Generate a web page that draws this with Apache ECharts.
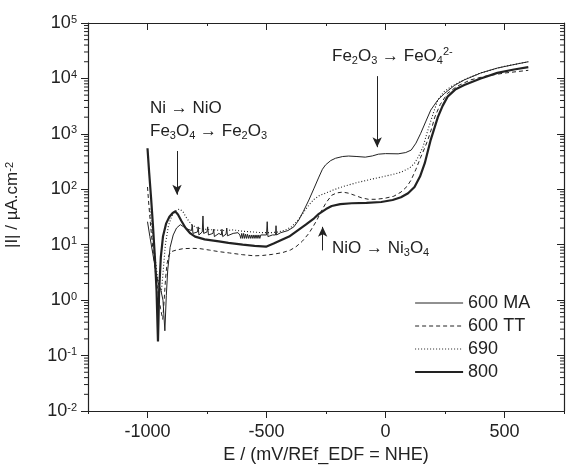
<!DOCTYPE html>
<html>
<head>
<meta charset="utf-8">
<script src="https://cdn.jsdelivr.net/npm/echarts@6/dist/echarts.min.js"></script>
<style>
html, body { margin: 0; padding: 0; background: #fff; }
#chart { width: 567px; height: 472px; }
</style>
</head>
<body>
<div id="chart"></div>
<script>
// Polarisation curves: |I| (µA.cm-2) against E (mV/REf_EDF = NHE)
const seriesNames = ['600 MA', '600 TT', '690', '800'];

const curve600MA = [
  [-1000, 26], [-990, 14], [-978, 7], [-966, 3.5], [-955, 2.0], [-945, 1.6], [-935, 1.0],
  [-927, 0.28], [-921, 1.2], [-915, 3.5], [-905, 9], [-892, 15], [-878, 20], [-862, 23],
  [-848, 21], [-830, 19], [-815, 18], [-812, 23], [-809, 16], [-790, 17], [-787, 21], [-784, 15],
  [-770, 17], [-767, 33], [-764, 16], [-750, 17], [-747, 21], [-744, 15], [-725, 16], [-722, 19],
  [-719, 14], [-700, 16], [-690, 15], [-687, 19], [-684, 14], [-670, 15.5], [-667, 20], [-664, 14.5],
  [-640, 16], [-620, 16.5], [-612, 15], [-608, 13], [-604, 16], [-600, 13], [-596, 16], [-592, 13],
  [-588, 15.5], [-584, 13], [-580, 15.5], [-576, 13], [-572, 15], [-568, 13], [-564, 15], [-560, 13],
  [-556, 15], [-552, 13], [-548, 15], [-544, 13], [-540, 15], [-536, 13], [-532, 15], [-528, 13],
  [-524, 15], [-520, 14], [-500, 15], [-497, 26], [-494, 14], [-475, 15], [-462, 15], [-460, 22],
  [-458, 15], [-440, 16.5], [-410, 18], [-385, 21], [-364, 28], [-345, 40], [-322, 64], [-300, 105],
  [-280, 166], [-265, 230], [-252, 275], [-230, 330], [-210, 363], [-180, 390], [-155, 398],
  [-120, 390], [-85, 380], [-55, 400], [-30, 430], [0, 440], [53, 436], [85, 460], [108, 510],
  [128, 680], [148, 1025], [170, 1700], [190, 2680], [220, 4100], [248, 5360], [290, 7500],
  [331, 9400], [400, 12500], [470, 15400], [540, 17800], [600, 20000]
];

const curve600TT = [
  [-1000, 110], [-994, 50], [-986, 20], [-977, 8], [-966, 3], [-955, 1.3], [-945, 0.7],
  [-936, 0.45], [-930, 1], [-924, 2.5], [-918, 4.5], [-910, 6.5], [-900, 7.5], [-880, 8],
  [-850, 8.5], [-810, 8.6], [-780, 8.5], [-740, 8], [-700, 7.5], [-656, 7.1], [-600, 6.6],
  [-550, 6.3], [-516, 6.4], [-475, 6.7], [-433, 7.2], [-400, 8], [-376, 9.2], [-350, 11.5],
  [-322, 16], [-305, 21], [-288, 28], [-270, 40], [-250, 57], [-226, 78], [-205, 86],
  [-180, 89], [-155, 85], [-130, 78], [-100, 70], [-72, 66], [-40, 66], [-2, 69], [35, 75],
  [65, 89], [90, 112], [108, 148], [128, 230], [148, 380], [165, 560], [178, 780], [195, 1300],
  [207, 2000], [230, 3400], [261, 5400], [300, 7200], [357, 9400], [420, 11000], [500, 12500],
  [600, 14000]
];

const curve690 = [
  [-990, 45], [-980, 18], [-970, 7], [-960, 3], [-950, 1.6], [-942, 1.4], [-935, 3], [-925, 10],
  [-912, 22], [-898, 33], [-882, 41], [-866, 44], [-852, 40], [-835, 30], [-815, 23], [-790, 20],
  [-760, 19], [-720, 18.5], [-680, 18], [-640, 18.5], [-600, 17.5], [-560, 17], [-520, 16.5],
  [-480, 16.5], [-450, 17], [-420, 18.5], [-395, 21], [-370, 27], [-345, 38], [-322, 52],
  [-300, 66], [-276, 78], [-252, 85], [-220, 97], [-190, 108], [-155, 120], [-110, 135],
  [-60, 152], [-18, 166], [30, 185], [65, 204], [100, 240], [122, 295], [140, 400], [157, 570],
  [178, 1170], [200, 2300], [220, 4100], [245, 5700], [275, 7100], [330, 9500], [400, 12600],
  [500, 16500], [600, 20000]
];

const curve800 = [
  [-1000, 550], [-993, 200], [-985, 70], [-977, 22], [-969, 6], [-962, 1.5], [-956, 0.18],
  [-951, 1.5], [-944, 6], [-935, 14], [-922, 24], [-908, 32], [-895, 37], [-884, 40], [-872, 35],
  [-858, 27], [-840, 20], [-820, 16], [-800, 14], [-760, 12.5], [-700, 11.5], [-660, 10.8],
  [-600, 10], [-550, 9.5], [-502, 9.2], [-470, 10.5], [-440, 12], [-405, 14], [-370, 18],
  [-335, 23], [-300, 30], [-280, 36], [-250, 44], [-226, 50], [-190, 54], [-142, 56], [-80, 57],
  [-18, 59], [30, 64], [65, 72], [95, 85], [122, 110], [145, 170], [165, 295], [190, 780],
  [220, 2000], [240, 3200], [261, 4700], [295, 6400], [331, 7600], [400, 10000], [470, 12600],
  [540, 14500], [600, 16000]
];

// axis ranges and labelled ticks
const xRange = [-1250, 750];
const xLabelTicks = [-1000, -500, 0, 500];
const yRange = [0.01, 100000];
const yMinorTicks = [];
for (let e = -2; e < 5; e++) {
  for (let m = 2; m <= 9; m++) yMinorTicks.push(m * Math.pow(10, e));
}

// arrows pointing at the reaction regions: [E, |I| start] -> [E, |I| end]
const arrows = [
  [[-876, 490], [-876, 80]],
  [[-35, 11000], [-35, 575]],
  [[-264, 7.9], [-264, 21]]
];

const FONT = '"Liberation Sans", Arial, Helvetica, sans-serif';
const INK = '#222';

const chart = echarts.init(document.getElementById('chart'), null, { renderer: 'canvas' });

function supLabel(v) {
  const e = Math.round(Math.log10(v));
  return '10{sup|' + e + '}';
}

const subRich = {
  sub: { fontSize: 11, fontFamily: FONT, color: INK, verticalAlign: 'bottom', lineHeight: 6 },
  sup: { fontSize: 11, fontFamily: FONT, color: INK, verticalAlign: 'top', lineHeight: 6 }
};

function lineSeries(name, data, lineStyle) {
  return {
    name: name,
    type: 'line',
    data: data,
    showSymbol: false,
    symbol: 'none',
    smooth: false,
    clip: true,
    lineStyle: Object.assign({ color: INK }, lineStyle),
    itemStyle: { color: INK },
    emphasis: { disabled: true }
  };
}

const series = [
  lineSeries(seriesNames[0], curve600MA, { width: 1, type: 'solid' }),
  lineSeries(seriesNames[1], curve600TT, { width: 1, type: [4, 3] }),
  lineSeries(seriesNames[2], curve690, { width: 1.1, type: [1, 2] }),
  lineSeries(seriesNames[3], curve800, { width: 2.2, type: 'solid' })
];

series[3].markLine = {
  silent: true,
  symbol: ['none', 'arrow'],
  symbolSize: [7, 10],
  label: { show: false },
  lineStyle: { color: INK, width: 1, type: 'solid' },
  emphasis: { disabled: true },
  data: arrows.map(a => [{ coord: a[0] }, { coord: a[1] }])
};

// log-axis minor ticks on left (outside) and right (inside)
series.push({
  type: 'custom',
  silent: true,
  clip: false,
  z: 5,
  data: yMinorTicks.map(v => [xRange[0], v]),
  renderItem: function (params, api) {
    const v = api.value(1);
    const pl = api.coord([xRange[0], v]);
    const pr = api.coord([xRange[1], v]);
    return {
      type: 'group',
      children: [
        { type: 'line', shape: { x1: pl[0] - 4, y1: pl[1], x2: pl[0], y2: pl[1] }, style: { stroke: INK, lineWidth: 1 } },
        { type: 'line', shape: { x1: pr[0] - 4, y1: pr[1], x2: pr[0], y2: pr[1] }, style: { stroke: INK, lineWidth: 1 } }
      ]
    };
  }
});

// longer ticks at the labelled E values (bottom outside, top inside)
series.push({
  type: 'custom',
  silent: true,
  clip: false,
  z: 5,
  data: xLabelTicks.map(v => [v, yRange[0]]),
  renderItem: function (params, api) {
    const v = api.value(0);
    const pb = api.coord([v, yRange[0]]);
    const pt = api.coord([v, yRange[1]]);
    return {
      type: 'group',
      children: [
        { type: 'line', shape: { x1: pb[0], y1: pb[1], x2: pb[0], y2: pb[1] + 7 }, style: { stroke: INK, lineWidth: 1 } },
        { type: 'line', shape: { x1: pt[0], y1: pt[1], x2: pt[0], y2: pt[1] + 7 }, style: { stroke: INK, lineWidth: 1 } }
      ]
    };
  }
});

const option = {
  animation: false,
  backgroundColor: '#fff',
  textStyle: { fontFamily: FONT, color: INK },
  grid: { left: 88, right: 1, top: 23, bottom: 61, containLabel: false },
  legend: {
    data: seriesNames,
    orient: 'vertical',
    left: 414,
    top: 294,
    padding: 0,
    itemWidth: 48,
    itemHeight: 12,
    itemGap: 5,
    selectedMode: false,
    itemStyle: { opacity: 0 },
    lineStyle: { width: 'inherit' },
    textStyle: { fontSize: 18, fontFamily: FONT, color: INK }
  },
  xAxis: [
    {
      type: 'value', position: 'bottom', min: xRange[0], max: xRange[1], interval: 250,
      axisLine: { show: true, onZero: false, lineStyle: { color: INK, width: 1.2 } },
      axisTick: { show: true, inside: false, length: 3, lineStyle: { color: INK } },
      splitLine: { show: false },
      axisLabel: {
        show: true, margin: 12, fontSize: 18, fontFamily: FONT, color: INK,
        formatter: v => (xLabelTicks.indexOf(v) >= 0 ? String(v) : '')
      },
      name: 'E / (mV/REf_EDF = NHE)',
      nameLocation: 'middle',
      nameGap: 34,
      nameTextStyle: { fontSize: 18, fontFamily: FONT, color: INK }
    },
    {
      type: 'value', position: 'top', min: xRange[0], max: xRange[1], interval: 250,
      axisLine: { show: true, onZero: false, lineStyle: { color: INK, width: 1.2 } },
      axisTick: { show: true, inside: true, length: 3, lineStyle: { color: INK } },
      splitLine: { show: false },
      axisLabel: { show: false }
    }
  ],
  yAxis: [
    {
      type: 'log', logBase: 10, position: 'left', min: yRange[0], max: yRange[1], splitNumber: 7,
      axisLine: { show: true, onZero: false, lineStyle: { color: INK, width: 1.2 } },
      axisTick: { show: true, inside: false, length: 7, lineStyle: { color: INK } },
      minorTick: { show: false },
      splitLine: { show: false },
      axisLabel: {
        show: true, margin: 11, fontSize: 18, fontFamily: FONT, color: INK,
        formatter: supLabel,
        rich: { sup: { fontSize: 11, fontFamily: FONT, color: INK, verticalAlign: 'top', lineHeight: 6 } }
      }
    },
    {
      type: 'log', logBase: 10, position: 'right', min: yRange[0], max: yRange[1], splitNumber: 7,
      axisLine: { show: true, onZero: false, lineStyle: { color: INK, width: 1.2 } },
      axisTick: { show: true, inside: true, length: 7, lineStyle: { color: INK } },
      splitLine: { show: false },
      axisLabel: { show: false }
    }
  ],
  graphic: [
    {
      type: 'text', left: 4, top: 162, rotation: Math.PI / 2,
      style: {
        text: '|I| / µA.cm{sup|-2}', fontSize: 17, fontFamily: FONT, fill: INK,
        rich: subRich
      }
    },
    {
      type: 'text', left: 150, top: 98,
      style: { text: 'Ni → NiO', fontSize: 17, fontFamily: FONT, fill: INK, lineHeight: 20 }
    },
    {
      type: 'text', left: 150, top: 121,
      style: { text: 'Fe{sub|3}O{sub|4} → Fe{sub|2}O{sub|3}', fontSize: 17, fontFamily: FONT, fill: INK, lineHeight: 20, rich: subRich }
    },
    {
      type: 'text', left: 332, top: 46,
      style: { text: 'Fe{sub|2}O{sub|3} → FeO{sub|4}{sup|2-}', fontSize: 17, fontFamily: FONT, fill: INK, lineHeight: 20, rich: subRich }
    },
    {
      type: 'text', left: 332, top: 238,
      style: { text: 'NiO → Ni{sub|3}O{sub|4}', fontSize: 17, fontFamily: FONT, fill: INK, lineHeight: 20, rich: subRich }
    }
  ],
  series: series
};

chart.setOption(option);
</script>
</body>
</html>
